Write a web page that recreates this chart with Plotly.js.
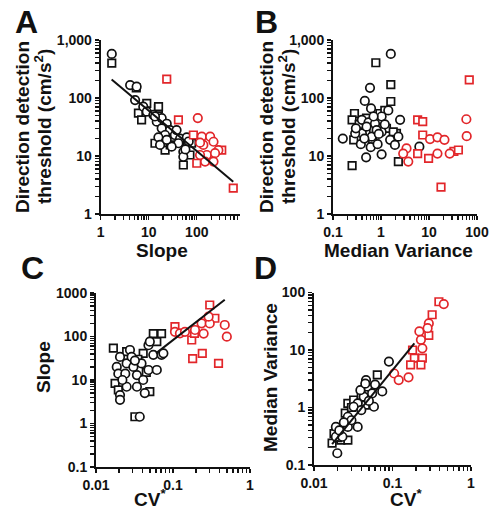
<!DOCTYPE html>
<html>
<head>
<meta charset="utf-8">
<script src="https://cdn.plot.ly/plotly-3.0.1.min.js"></script>
<style>html,body{margin:0;padding:0;background:#fff;}#chart{width:492px;height:512px;}</style>
</head>
<body>
<div id="chart"></div>
<script>
// ---------- Panel A: Slope vs Direction detection threshold ----------
var a_bc_x = [1.7,4.1,5.6,5.2,7.7,9.1,12.5,14.7,18.6,23.7,18.6,27.7,21.9,15.9,35,45,62,41.5,52.5,52.5,30,17.2,23.7,68,58,38,13.5];
var a_bc_y = [575,167,157,92,71,58,51,39,45,36,30,28,23,21,23,20,21,16.6,11.8,9.7,14.5,15.5,19,17.8,13,28,48];
var a_bs_x = [1.7,5.5,6.1,7.1,9.1,15.9,13.5,52.5,72,21.9,28,45,78,16];
var a_bs_y = [398,150,55,42,81,66,16.6,7.0,10.4,12.6,15.5,17.8,16.6,71];
var a_rc_x = [105,127,190,223,137,282,162,240,149,223,117,117];
var a_rc_y = [45,21.5,21.5,17.6,15.5,12.6,10.4,11.2,8,8,10.4,17];
var a_rs_x = [23.7,41.5,85,331,100,575];
var a_rs_y = [212,42,23,12.6,7.5,2.8];
var fitA_x = [1.69,575];
var fitA_y = [209,3.6];

// ---------- Panel B: Median Variance vs threshold ----------
var b_bc_x = [1.6,0.59,0.46,0.62,1.42,2.5,0.16,0.40,0.55,0.75,1.03,0.40,0.64,1.03,1.55,2.3,0.38,0.61,1.03,0.49,6.3,0.29,0.81,1.95,0.3,0.5,0.7,0.9,1.2,0.45,0.85];
var b_bc_y = [575,150,89,66,61,42,20,42,38,36,48,24.5,21.5,26,19,21.5,16,14.2,10.7,9.5,14.5,24.5,28,15.5,30,32,48,24,35,20,16];
var b_bs_x = [0.78,1.6,1.6,0.28,0.25,2.3,0.25,0.95,2.1,0.27,1.2,0.67,0.35,0.5,1.3,0.7,1.8];
var b_bs_y = [405,170,87,54,6.8,8,42,54,24.5,19,61,19,35,45,30,28,26];
var b_rc_x = [60,61,10.5,15,21,15,27,3.4,2.9,3.7];
var b_rc_y = [43,22,19.6,21,19,11,11,13.5,11,8];
var b_rs_x = [69,5.8,7.4,7.4,9.8,5.8,33,41,17.8];
var b_rs_y = [205,42,39,23,9.1,11,12,12.7,2.9];

// ---------- Panel C: CV* vs Slope ----------
var c_bc_x = [0.037,0.0276,0.0205,0.0186,0.0195,0.025,0.0306,0.024,0.034,0.039,0.048,0.0616,0.048,0.0555,0.071,0.0205,0.025,0.034,0.041,0.029,0.0205,0.05,0.075,0.043,0.032,0.022];
var c_bc_y = [1.43,49,34,20,14,24,20,14,13,24,17,17,63,38,38,4.5,7,7,10,34,3.5,76,41,5,28,10];
var c_bs_x = [0.0168,0.0555,0.071,0.0616,0.0177,0.0195,0.05,0.032,0.041,0.025,0.035,0.045];
var c_bs_y = [54,117,117,76,8.4,5.9,5.4,1.43,41,45,30,15];
var c_rc_x = [0.106,0.123,0.143,0.235,0.30,0.29,0.47,0.50,0.193,0.25];
var c_rc_y = [128,118,128,201,200,286,184,99,141,117];
var c_rs_x = [0.30,0.35,0.18,0.24,0.39,0.106,0.175,0.19];
var c_rs_y = [530,263,31,41,24,168,83,118];
var fitC_x = [0.06,0.47];
var fitC_y = [41,700];

// ---------- Panel D: CV* vs Median Variance ----------
var d_bc_x = [0.09,0.0198,0.046,0.048,0.074,0.058,0.043,0.036,0.032,0.027,0.036,0.027,0.019,0.019,0.023,0.055,0.039,0.03,0.024,0.021,0.04,0.05,0.06,0.045];
var d_bc_y = [6.3,0.16,3.0,2.3,1.9,1.03,1.54,1.18,1.03,0.69,0.46,0.46,0.46,0.31,0.31,1.76,2.0,0.6,0.55,0.4,0.9,1.3,2.5,2.6];
var d_bs_x = [0.017,0.064,0.027,0.032,0.022,0.027,0.018,0.025,0.03,0.04,0.045,0.02];
var d_bs_y = [0.24,3.7,1.18,1.35,0.27,0.27,0.35,0.8,1.0,1.6,1.1,0.3];
var d_rc_x = [0.45,0.29,0.22,0.23,0.24,0.28,0.105,0.12,0.16];
var d_rc_y = [63,29,21,15,10.7,24,3.9,3.0,3.35];
var d_rs_x = [0.39,0.32,0.29,0.18,0.19,0.17,0.24,0.23];
var d_rs_y = [69,41,18,10,7.2,5.5,7.2,5.5];
var fitD_x = [0.017,0.19];
var fitD_y = [0.23,13];

// decade tick labels per axis
var tA_x_dec = [1,10,100],           tA_x_lab = ['1','10','100'];
var tAB_y_dec = [1,10,100,1000],     tAB_y_lab = ['1','10','100','1,000'];
var tB_x_dec = [0.1,1,10,100],       tB_x_lab = ['0.1','1','10','100'];
var tC_y_dec = [0.1,1,10,100,1000],  tC_y_lab = ['0.1','1','10','100','1000'];
var tCD_x_dec = [0.01,0.1,1],        tCD_x_lab = ['0.01','0.1','1'];
var tD_y_dec = [0.1,1,10,100],       tD_y_lab = ['0.1','1','10','100'];

var BLACK = '#111111', RED = '#e2262a';
var W = 492, H = 512;

function pts(x, y, sym, col, ax) {
  return {x: x, y: y, xaxis: 'x' + ax, yaxis: 'y' + ax, type: 'scatter', mode: 'markers',
    hoverinfo: 'skip', showlegend: false,
    marker: {symbol: sym, size: sym === 'square' ? 7.5 : 8.5, color: 'white', line: {color: col, width: 1.7}}};
}
function fit(x, y, ax) {
  return {x: x, y: y, xaxis: 'x' + ax, yaxis: 'y' + ax, type: 'scatter', mode: 'lines',
    hoverinfo: 'skip', showlegend: false, line: {color: BLACK, width: 2}};
}

var data = [
  pts(a_bs_x, a_bs_y, 'square', BLACK, ''), pts(a_bc_x, a_bc_y, 'circle', BLACK, ''),
  pts(a_rs_x, a_rs_y, 'square', RED, ''), pts(a_rc_x, a_rc_y, 'circle', RED, ''),
  fit(fitA_x, fitA_y, ''),
  pts(b_bs_x, b_bs_y, 'square', BLACK, '2'), pts(b_bc_x, b_bc_y, 'circle', BLACK, '2'),
  pts(b_rs_x, b_rs_y, 'square', RED, '2'), pts(b_rc_x, b_rc_y, 'circle', RED, '2'),
  pts(c_bs_x, c_bs_y, 'square', BLACK, '3'), pts(c_bc_x, c_bc_y, 'circle', BLACK, '3'),
  pts(c_rs_x, c_rs_y, 'square', RED, '3'), pts(c_rc_x, c_rc_y, 'circle', RED, '3'),
  fit(fitC_x, fitC_y, '3'),
  pts(d_bs_x, d_bs_y, 'square', BLACK, '4'), pts(d_bc_x, d_bc_y, 'circle', BLACK, '4'),
  pts(d_rs_x, d_rs_y, 'square', RED, '4'), pts(d_rc_x, d_rc_y, 'circle', RED, '4'),
  fit(fitD_x, fitD_y, '4')
];

// expand decade labels into full log tick sets (1..9 per decade, labels only on decades)
function logTicks(dec, lab, maxLog) {
  var vals = [], text = [];
  for (var i = 0; i < dec.length; i++) {
    for (var k = 1; k <= 9; k++) {
      var v = dec[i] * k;
      if (Math.log10(v) > maxLog + 1e-9) break;
      vals.push(v); text.push(k === 1 ? lab[i] : '');
      if (i === dec.length - 1 && Math.log10(dec[i]) >= maxLog - 1e-9) break;
    }
  }
  return {vals: vals, text: text};
}

var FONT = 'Arial, "Liberation Sans", Helvetica, sans-serif';
function ax(dom, range, dec, lab, anchor) {
  var t = logTicks(dec, lab, range[1]);
  return {type: 'log', domain: dom, range: range, anchor: anchor,
    tickmode: 'array', tickvals: t.vals, ticktext: t.text,
    showline: true, linecolor: BLACK, linewidth: 2, mirror: false,
    ticks: 'outside', ticklen: 4, tickwidth: 1.4, tickcolor: BLACK,
    showgrid: false, zeroline: false,
    tickfont: {family: FONT, size: 14, color: BLACK, weight: 'bold'}};
}
function px(x0, x1) { return [x0 / W, x1 / W]; }
function py(ytop, ybot) { return [1 - ybot / H, 1 - ytop / H]; }

function ann(text, x, y, size, angle) {
  return {text: text, x: x / W, y: 1 - y / H, xref: 'paper', yref: 'paper',
    xanchor: 'center', yanchor: 'middle', showarrow: false, textangle: angle || 0,
    font: {family: FONT, size: size, color: BLACK, weight: 'bold'}};
}

var layout = {
  width: W, height: H, margin: {l: 0, r: 0, t: 0, b: 0},
  paper_bgcolor: 'white', plot_bgcolor: 'white', showlegend: false,
  xaxis:  ax(px(100.7, 240), [0, 2.9], tA_x_dec, tA_x_lab, 'y'),
  yaxis:  ax(py(40, 214), [0, 3], tAB_y_dec, tAB_y_lab, 'x'),
  xaxis2: ax(px(333, 477), [-1, 2], tB_x_dec, tB_x_lab, 'y2'),
  yaxis2: ax(py(40, 214), [0, 3], tAB_y_dec, tAB_y_lab, 'x2'),
  xaxis3: ax(px(96, 250), [-2, 0], tCD_x_dec, tCD_x_lab, 'y3'),
  yaxis3: ax(py(293, 467), [-1, 3], tC_y_dec, tC_y_lab, 'x3'),
  xaxis4: ax(px(314, 471), [-2, 0], tCD_x_dec, tCD_x_lab, 'y4'),
  yaxis4: ax(py(292.5, 465), [-1, 2], tD_y_dec, tD_y_lab, 'x4'),
  annotations: [
    ann('A', 26, 22, 32), ann('B', 266, 22, 32), ann('C', 32, 268, 32), ann('D', 265, 268, 32),
    ann('Direction detection', 22, 127, 19, -90), ann('threshold (cm/s<sup>2</sup>)', 43, 127, 19, -90),
    ann('Direction detection', 266, 127, 19, -90), ann('threshold (cm/s<sup>2</sup>)', 287, 127, 19, -90),
    ann('Slope', 162, 250, 19), ann('Median Variance', 398, 250, 19),
    ann('Slope', 43, 367, 19, -90), ann('Median Variance', 270, 378, 19, -90),
    ann('CV<sup>*</sup>', 150, 498, 19), ann('CV<sup>*</sup>', 406, 498, 19)
  ]
};

Plotly.newPlot('chart', data, layout, {staticPlot: true, displayModeBar: false});
</script>
</body>
</html>
